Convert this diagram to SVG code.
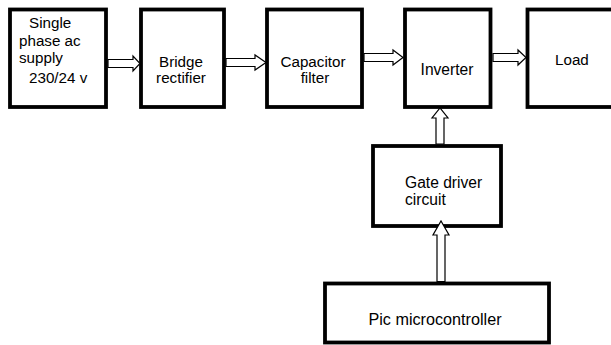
<svg xmlns="http://www.w3.org/2000/svg" width="611" height="345" viewBox="0 0 611 345">
<style>
.box{fill:#fff;stroke:#000;stroke-width:3.8}
.t{font-family:"Liberation Sans",Arial,sans-serif;font-size:15.2px;fill:#000}
.m{text-anchor:middle}
.arr{fill:#fff;stroke:#000;stroke-width:1.2;stroke-linejoin:miter}
</style>
<rect width="611" height="345" fill="#fff"/>
<g id="supply"><rect class="box" x="10" y="9.5" width="96" height="97.5"/>
<text class="t" x="29" y="28">Single</text>
<text class="t" x="19" y="46">phase ac</text>
<text class="t" x="19" y="63">supply</text>
<text class="t" x="29" y="83">230/24 v</text></g>
<g id="rectifier"><rect class="box" x="141" y="9.5" width="83" height="97.5"/>
<text class="t m" x="181" y="67">Bridge</text>
<text class="t m" x="181" y="83">rectifier</text></g>
<g id="filter"><rect class="box" x="267" y="9.5" width="95" height="97.5"/>
<text class="t m" x="313" y="67">Capacitor</text>
<text class="t m" x="315" y="83">filter</text></g>
<g id="inverter"><rect class="box" x="405" y="9.5" width="85.5" height="97.5"/>
<text class="t m" x="447" y="75" style="font-size:15.6px">Inverter</text></g>
<g id="load"><rect class="box" x="527.5" y="9.5" width="92" height="97.5"/>
<text class="t" x="555" y="65">Load</text></g>
<g id="gate"><rect class="box" x="373" y="146" width="128" height="80"/>
<text class="t" x="405" y="188" style="font-size:15.6px">Gate driver</text>
<text class="t" x="405" y="205" style="font-size:15.6px">circuit</text></g>
<g id="pic"><rect class="box" x="325" y="283.5" width="224" height="59"/>
<text class="t m" x="435" y="325" style="font-size:16.2px">Pic microcontroller</text></g>
<g id="connectors">
<polygon class="arr" points="108,59.5 133,59.5 133,56 140,63.5 133,71 133,67.5 108,67.5"/>
<polygon class="arr" points="226,58.5 255,58.5 255,55 266,62.5 255,70 255,66.5 226,66.5"/>
<polygon class="arr" points="364,53.5 393,53.5 393,50 403,57.5 393,65 393,61.5 364,61.5"/>
<polygon class="arr" points="493,53.5 518,53.5 518,50 526,57.5 518,65 518,61.5 493,61.5"/>
<polygon class="arr" points="436,144 436,118 432,118 440,108 448,118 444,118 444,144"/>
<polygon class="arr" points="437,281.5 437,235 433,235 441,221 449,235 445,235 445,281.5"/>
</g>
</svg>
